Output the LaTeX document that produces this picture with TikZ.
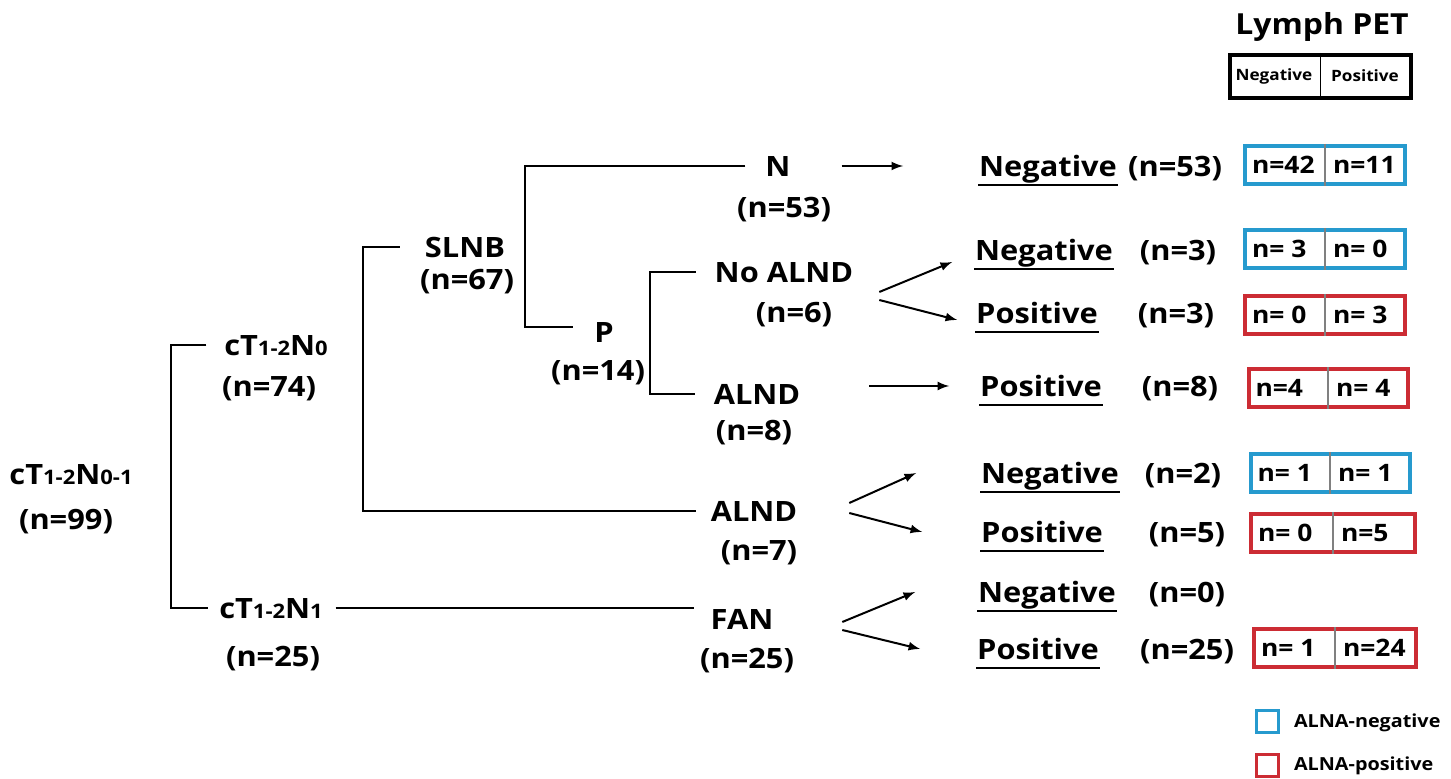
\documentclass[tikz,border=0pt]{standalone}
\usepackage{fontspec}
\setmainfont{Open Sans}[FakeStretch=1.1]
\usepackage{tikz}
\definecolor{boxblue}{RGB}{38,154,206}
\definecolor{boxred}{RGB}{204,44,52}
\usetikzlibrary{arrows}
\newcommand{\klein}[1]{{\fontsize{10}{12}\selectfont #1}}

\begin{document}
\begin{tikzpicture}[x=0.5pt, y=-0.5pt,
				lbl/.style={inner sep=0pt, anchor=base, text height=11pt, text depth=0pt, font=\fontsize{14}{16}\selectfont\bfseries},
				nbox/.style={draw=#1, line width=2pt, minimum width=80pt, minimum height=19pt, inner sep=0pt},
				ntxt/.style={inner sep=0pt, anchor=west, font=\fontsize{12}{14}\selectfont\bfseries},
				>=latex,   %Pfeilspitzen
				line width=1pt]
				\useasboundingbox (0,0) rectangle (1451,779);
				% Baum: Knoten
				\node[lbl] (root) at (71,485) {cT\klein{1-2}N\klein{0-1}};
				\node[lbl] (rootn) at (66,530) {(n=99)};
				\node[lbl] (c0) at (276,356) {cT\klein{1-2}N\klein{0}};
				\node[lbl] (c0n) at (269,397) {(n=74)};
				\node[lbl] (c1) at (271,619) {cT\klein{1-2}N\klein{1}};
				\node[lbl] (c1n) at (273,667) {(n=25)};
				\node[lbl] (slnb) at (465,258) {SLNB};
				\node[lbl] (slnbn) at (467,290) {(n=67)};
				\node[lbl] (nn) at (778,177) {N};
				\node[lbl] (nnn) at (784,218) {(n=53)};
				\node[lbl] (pp) at (604,343) {P};
				\node[lbl] (ppn) at (598,381) {(n=14)};
				\node[lbl] (noal) at (784,283) {No ALND};
				\node[lbl] (noaln) at (794,323) {(n=6)};
				\node[lbl] (al8) at (757,405) {ALND};
				\node[lbl] (al8n) at (754,441) {(n=8)};
				\node[lbl] (al7) at (754,522) {ALND};
				\node[lbl] (al7n) at (759,561) {(n=7)};
				\node[lbl] (fan) at (742,630) {FAN};
				\node[lbl] (fann) at (747,669) {(n=25)};
				% Ergebnisse
				\node[lbl] (o1) at (1048,177) {Negative};
				\node[lbl] (o1n) at (1175,177) {(n=53)};
				\node[lbl] (o2) at (1044,261) {Negative};
				\node[lbl] (o2n) at (1178,261) {(n=3)};
				\node[lbl] (o3) at (1037,324) {Positive};
				\node[lbl] (o3n) at (1176,324) {(n=3)};
				\node[lbl] (o4) at (1041,397) {Positive};
				\node[lbl] (o4n) at (1180,397) {(n=8)};
				\node[lbl] (o5) at (1050,484) {Negative};
				\node[lbl] (o5n) at (1183,484) {(n=2)};
				\node[lbl] (o6) at (1042,543) {Positive};
				\node[lbl] (o6n) at (1187,543) {(n=5)};
				\node[lbl] (o7) at (1047,603) {Negative};
				\node[lbl] (o7n) at (1187,603) {(n=0)};
				\node[lbl] (o8) at (1038,660) {Positive};
				\node[lbl] (o8n) at (1187,660) {(n=25)};
				\foreach \o in {o1,o2,o3,o4,o5,o6,o7,o8}
					\draw ([yshift=-4pt]\o.base west) -- ([yshift=-4pt]\o.base east);
				% Klammern
				\coordinate (s1) at (171,0);
				\coordinate (s2) at (363,0);
				\coordinate (s3) at (525,0);
				\coordinate (s4) at (650,0);
				\draw ([xshift=-8.5pt]c0.west) -- (s1 |- c0.west) -- (s1 |- c1.west) -- ([xshift=-5pt]c1.west);
				\draw ([xshift=6pt]c1.east) -- ([xshift=-8pt,yshift=5.5pt]fan.west);
				\draw ([xshift=-12pt]slnb.west) -- (s2 |- slnb.west) -- (s2 |- al7.west) -- ([xshift=-7pt]al7.west);
				\draw ([xshift=-9.5pt]nn.west) -- (s3 |- nn.west) -- ([yshift=2.5pt]pp.west -| s3) -- ([xshift=-10pt,yshift=2.5pt]pp.west);
				\draw ([xshift=-9pt]noal.west) -- (s4 |- noal.west) -- (s4 |- al8.west) -- ([xshift=-9pt]al8.west);
				% Pfeile
				\draw[->] ([xshift=25pt]nn.east) -- ([xshift=-37.5pt]o1.west);
				\draw[->] ([xshift=12.5pt,yshift=-10pt]noal.east) -- ([xshift=-11pt,yshift=-6pt]o2.west);
				\draw[->] ([xshift=12.5pt,yshift=-14pt]noal.east) -- ([xshift=-9pt,yshift=-3.5pt]o3.west);
				\draw[->] ([xshift=34pt]al8.east |- o4.west) -- ([xshift=-15pt]o4.west);
				\draw[->] ([xshift=25.5pt,yshift=4pt]al7.east) -- ([xshift=-32pt]o5.west);
				\draw[->] ([xshift=25.5pt,yshift=-1pt]al7.east) -- ([xshift=-29pt]o6.west);
				\draw[->] ([xshift=34pt,yshift=-1.5pt]fan.east) -- ([xshift=-31pt]o7.west);
				\draw[->] ([xshift=34pt,yshift=-5.5pt]fan.east) -- ([xshift=-28pt]o8.west);
				% Lymph PET Kopf
				\node[inner sep=0pt, font=\fontsize{14.5}{16}\selectfont\bfseries] (lp) at (1322,27) {Lymph PET};
				\node[draw, line width=2pt, minimum width=90.5pt, minimum height=21.5pt, inner sep=0pt] (hb) at (1320.5,76.5) {};
				\draw[line width=0.6pt] (hb.north) -- (hb.south);
				\node[inner sep=0pt, font=\fontsize{7.8}{9}\selectfont\bfseries] (hneg) at (1274,76) {Negative};
				\node[inner sep=0pt, font=\fontsize{7.8}{9}\selectfont\bfseries] (hpos) at (1365,76) {Positive};
				% Kaestchen
				\foreach \nm/\x/\y/\w/\col/\l/\r in {b1/1325/165/80/boxblue/{n=42}/{n=11},
						b2/1325/249/80/boxblue/{n= 3}/{n= 0},
						b3/1325/315/80/boxred/{n= 0}/{n= 3},
						b4/1328/388/79.5/boxred/{n=4}/{n= 4},
						b5/1330/473/79.5/boxblue/{n= 1}/{n= 1},
						b6/1333/533/82/boxred/{n= 0}/{n=5},
						b7/1335/648/81/boxred/{n= 1}/{n=24}} {
					\node[nbox=\col, minimum width=\w pt] (\nm) at (\x,\y) {};
					\draw[gray, line width=0.6pt] (\nm.north) -- (\nm.south);
					\node[ntxt] (\nm-l) at ([xshift=4pt]\nm.west) {\l};
					\node[ntxt] (\nm-r) at ([xshift=3.5pt]\nm.center) {\r};
				}
				% Legende
				\node[draw=boxblue, line width=1.5pt, minimum size=11pt, inner sep=0pt] (lg1) at (1267.5,721.5) {};
				\node[ntxt, font=\fontsize{9}{11}\selectfont\bfseries] (lg1t) at (1293,723) {ALNA-negative};
				\node[draw=boxred, line width=1.5pt, minimum size=11pt, inner sep=0pt] (lg2) at (1267.5,765.5) {};
				\node[ntxt, font=\fontsize{9}{11}\selectfont\bfseries] (lg2t) at (1293,766) {ALNA-positive};
			\end{tikzpicture}
\end{document}
